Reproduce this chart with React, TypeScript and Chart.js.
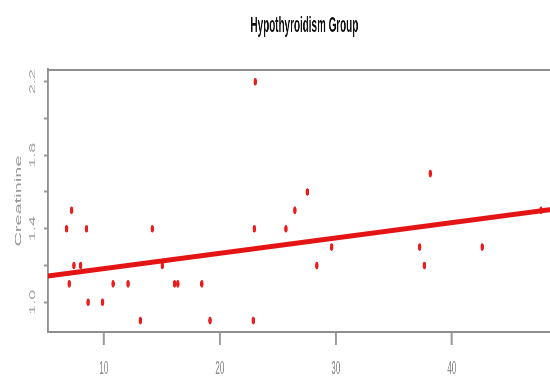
import React, { useEffect, useRef } from 'react';
import { Chart, registerables } from 'chart.js';
Chart.register(...registerables);

// Data
const ageValues = [6.79, 7.22, 7.02, 7.42, 8.0, 8.51, 8.65, 9.89, 10.8, 12.09, 13.15, 14.18, 15.04, 16.1, 16.38, 18.45, 19.16, 22.89, 22.98, 23.06, 25.7, 26.47, 27.55, 28.36, 29.64, 37.23, 37.64, 38.15, 42.62, 47.69];
const creatinineValues = [1.4, 1.5, 1.1, 1.2, 1.2, 1.4, 1.0, 1.0, 1.1, 1.1, 0.9, 1.4, 1.2, 1.1, 1.1, 1.1, 0.9, 0.9, 1.4, 2.2, 1.4, 1.5, 1.6, 1.2, 1.3, 1.3, 1.2, 1.7, 1.3, 1.5];
const fitX = [5.19, 49.39];
const fitY = [1.143, 1.511];
const yLabelled = [1.0, 1.4, 1.8, 2.2];
const titleText = 'Hypothyroidism Group';
const yTitle = 'Creatinine';

const S = 0.45; // horizontal squeeze of the whole picture
const CW = 1250;
const CH = 376;

const topLine = {
  id: 'topLine',
  afterDraw(chart: any) {
    const { ctx, chartArea } = chart;
    ctx.save();
    ctx.strokeStyle = '#8f8f8f';
    ctx.lineWidth = 2;
    ctx.beginPath();
    ctx.moveTo(chartArea.left - 2, chartArea.top);
    ctx.lineTo(chartArea.right, chartArea.top);
    ctx.stroke();
    ctx.restore();
  },
};

export default function App() {
  const ref = useRef<HTMLCanvasElement>(null);
  useEffect(() => {
    const chart = new Chart(ref.current as HTMLCanvasElement, {
      type: 'scatter',
      data: {
        datasets: [
          {
            type: 'line',
            data: fitX.map((x, i) => ({ x, y: fitY[i] })),
            borderColor: 'rgb(228,20,20)',
            borderWidth: 5,
            pointRadius: 0,
            fill: false,
          },
          {
            data: ageValues.map((x, i) => ({ x, y: creatinineValues[i] })),
            backgroundColor: 'rgb(236,28,28)',
            borderWidth: 0,
            pointRadius: 3.8,
          },
        ],
      },
      plugins: [topLine],
      options: {
        responsive: false,
        animation: false,
        layout: { padding: 0 },
        plugins: {
          legend: { display: false },
          tooltip: { enabled: false },
          title: {
            display: true,
            text: titleText,
            fullSize: false,
            color: '#111',
            font: { family: 'Liberation Sans', size: 22, weight: 'bold' },
            padding: { top: 13, bottom: 30.6 },
          },
        },
        scales: {
          x: {
            type: 'linear',
            min: 5.19,
            max: 49.39,
            afterFit(scale: any) { scale.height = 44; },
            border: { display: true, color: '#8f8f8f', width: 2 },
            grid: { drawOnChartArea: false, drawTicks: true, tickLength: 13, tickWidth: 4.4, tickColor: '#9a9a9a' },
            ticks: {
              stepSize: 10,
              includeBounds: false,
              autoSkip: false,
              maxRotation: 0,
              padding: 13,
              color: '#8a8a8a',
              font: { family: 'Liberation Sans', size: 18 },
              callback: (v: any) => String(Math.round(Number(v))),
            },
          },
          y: {
            type: 'linear',
            min: 0.838,
            max: 2.264,
            afterFit(scale: any) { scale.width = 106.7; },
            border: { display: true, color: '#8f8f8f', width: 4.5 },
            grid: { drawOnChartArea: false, drawTicks: true, tickLength: 9, tickWidth: 2, tickColor: '#9a9a9a' },
            title: {
              display: true,
              text: yTitle,
              color: '#9a9a9a',
              font: { family: 'Liberation Sans', size: 20 },
              padding: { top: 29, bottom: 0 },
            },
            ticks: {
              stepSize: 0.2,
              includeBounds: false,
              autoSkip: false,
              minRotation: 90,
              maxRotation: 90,
              crossAlign: 'center',
              padding: 12.6,
              color: '#a3a3a3',
              font: { family: 'Liberation Sans', size: 18 },
              callback: (v: any) => {
                const n = Math.round(Number(v) * 10) / 10;
                return yLabelled.some((t) => Math.abs(t - n) < 1e-6) ? n.toFixed(1) : '';
              },
            },
          },
        },
      },
    } as any);
    return () => chart.destroy();
  }, []);
  return (
    <div style={{ position: 'fixed', left: 0, top: 0, width: 550, height: CH, overflow: 'hidden', background: '#fff' }}>
      <div style={{ width: CW, height: CH, transform: `scaleX(${S})`, transformOrigin: '0 0' }}>
        <canvas ref={ref} width={CW} height={CH} />
      </div>
    </div>
  );
}
